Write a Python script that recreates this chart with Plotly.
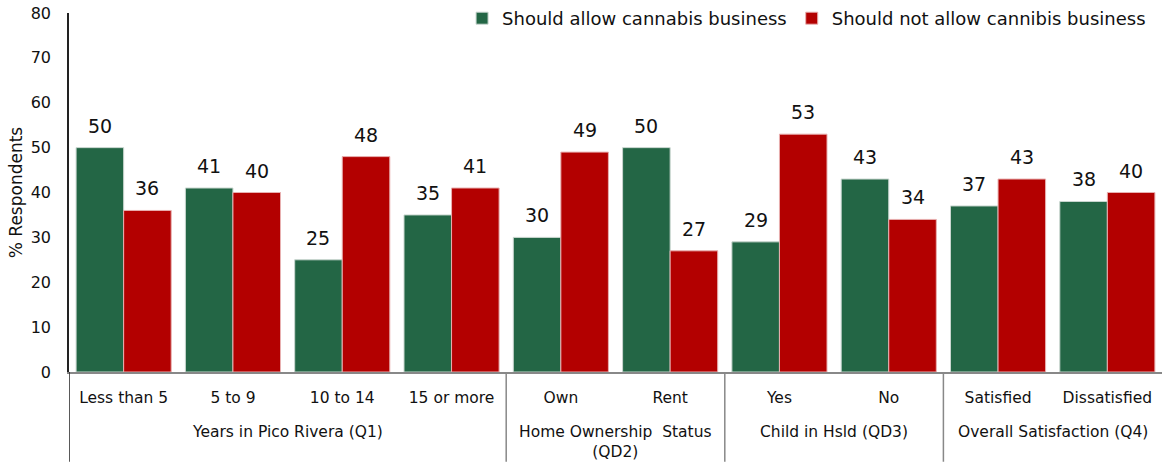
import plotly.graph_objects as go

categories = ["Less than 5", "5 to 9", "10 to 14", "15 or more", "Own", "Rent",
              "Yes", "No", "Satisfied", "Dissatisfied"]
allow = [50, 41, 25, 35, 30, 50, 29, 43, 37, 38]
not_allow = [36, 40, 48, 41, 49, 27, 53, 34, 43, 40]
groups = ["Years in Pico Rivera (Q1)", "Home Ownership  Status<br>(QD2)",
          "Child in Hsld (QD3)", "Overall Satisfaction (Q4)"]
group_sizes = [4, 2, 2, 2]
y_ticks = [0, 10, 20, 30, 40, 50, 60, 70, 80]

GREEN = "#236645"
RED = "#B30000"
FONT = "DejaVu Sans, sans-serif"
BARGAP = 0.13

x = list(range(len(categories)))
fig = go.Figure()
fig.add_trace(go.Bar(x=x, y=allow, name="Should allow cannabis business",
                     marker=dict(color=GREEN, line=dict(color="#c9d6cf", width=1))))
fig.add_trace(go.Bar(x=x, y=not_allow, name="Should not allow cannibis business",
                     marker=dict(color=RED, line=dict(color="#e8b0b0", width=1))))

# value labels above each bar
half = (1 - BARGAP) / 4
for series, off in ((allow, -half), (not_allow, half)):
    for i, v in enumerate(series):
        fig.add_annotation(x=i + off, y=v, text=str(v), showarrow=False,
                           yanchor="bottom", yshift=9,
                           font=dict(family=FONT, size=19, color="#111"))

# group labels and dividers beneath the category axis
start = 0
for g, n in zip(groups, group_sizes):
    center = start + (n - 1) / 2
    fig.add_annotation(x=center, y=0, yref="paper", text=g, showarrow=False,
                       yanchor="top", yshift=-49, align="center",
                       font=dict(family=FONT, size=15.5, color="#111"))
    edge = start - 0.5
    fig.add_shape(type="line", x0=edge, x1=edge, xref="x", y0=0, y1=-0.25,
                  yref="paper", layer="above",
                  line=dict(color="#222" if start == 0 else "#888", width=1.5))
    start += n

fig.update_layout(
    width=1162, height=463,
    margin=dict(l=69, r=0, t=12, b=91),
    plot_bgcolor="white", paper_bgcolor="white",
    barmode="group", bargap=BARGAP, bargroupgap=0,
    font=dict(family=FONT, size=15, color="#111"),
    showlegend=True,
    legend=dict(orientation="h", x=0.99, xanchor="right", y=1.035, yanchor="top",
                font=dict(family=FONT, size=18), itemwidth=30,
                bgcolor="rgba(0,0,0,0)", traceorder="normal"),
)
fig.update_xaxes(range=[-0.5, len(categories) - 0.5], tickvals=x, ticktext=categories,
                 showline=True, linecolor="#888", linewidth=1.5, ticks="",
                 ticklabelstandoff=11,
                 tickfont=dict(family=FONT, size=15.5), showgrid=False, zeroline=False)
fig.update_yaxes(range=[0, 80], tickvals=y_ticks, showline=True, linecolor="#222",
                 linewidth=1.5, ticks="", showgrid=False, zeroline=False,
                 ticklabelstandoff=13,
                 tickfont=dict(family=FONT, size=16),
                 title=dict(text="% Respondents", font=dict(family=FONT, size=17),
                            standoff=4))

fig.write_html("out.html")
